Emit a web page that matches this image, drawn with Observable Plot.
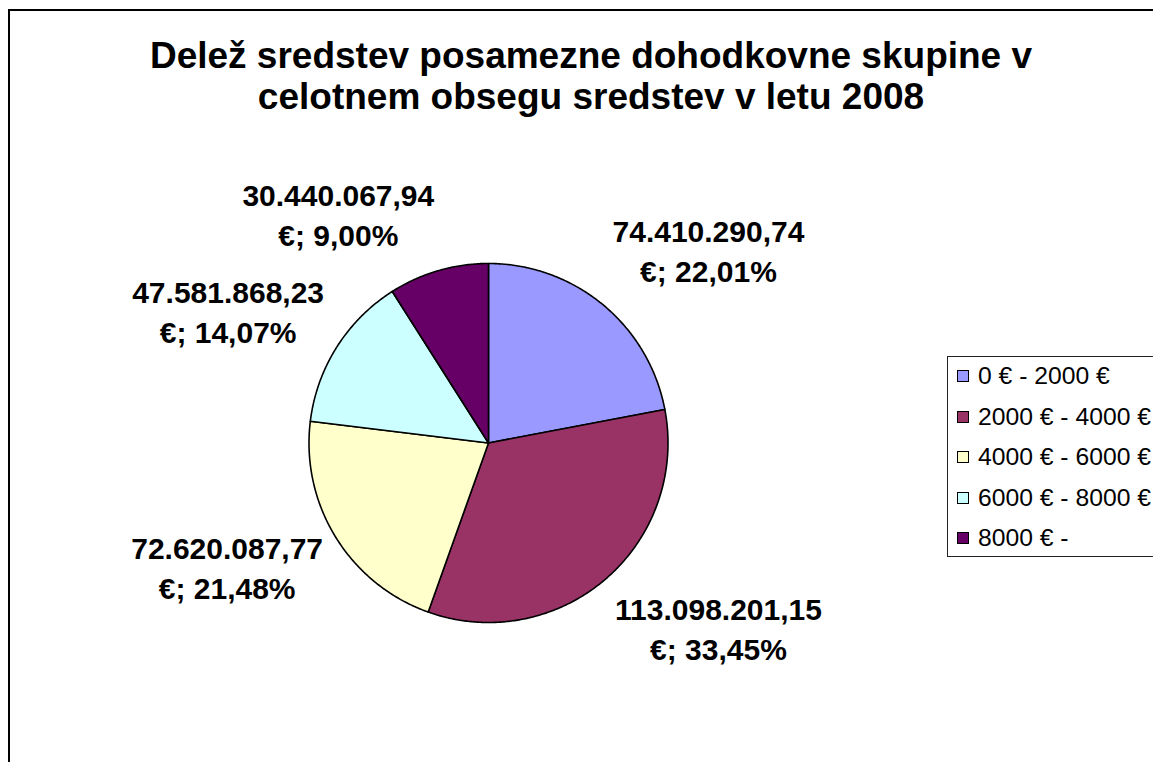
<!DOCTYPE html>
<html>
<head>
<meta charset="utf-8">
<script src="https://cdn.jsdelivr.net/npm/d3@7"></script>
<script src="https://cdn.jsdelivr.net/npm/@observablehq/plot@0.6"></script>
<style>
  html, body { margin: 0; padding: 0; background: #fff; overflow: hidden; width: 1153px; height: 762px; }
  #wrap { position: relative; width: 1153px; height: 762px; overflow: hidden; font-family: "Liberation Sans", Arial, sans-serif; }
  #frame { position: absolute; left: 8px; top: 9px; width: 1300px; height: 900px; border: 2px solid #000; box-sizing: border-box; }
  #title { position: absolute; left: 0; top: 35px; width: 1182px; text-align: center; font-weight: bold; font-size: 37px; line-height: 41px; color: #000; white-space: nowrap; }
  #chart { position: absolute; left: 0; top: 0; }
  #legend { position: absolute; left: 947px; top: 356px; width: 260px; height: 201px; border: 1px solid #222; box-sizing: border-box; background: #fff; }
  #legend .row { display: flex; align-items: center; height: 40.5px; font-size: 24.7px; color: #000; white-space: nowrap; }
  #legend .row:first-child { margin-top: -1px; }
  #legend .sw { width: 12px; height: 12px; border: 1px solid #000; box-sizing: border-box; margin-left: 9px; margin-right: 9px; flex: none; }
</style>
</head>
<body>
<div id="wrap">
  <div id="frame"></div>
  <div id="chart"></div>
  <div id="title"></div>
  <div id="legend"></div>
</div>
<script>
// ---- data ----
const titleLines = ["Delež sredstev posamezne dohodkovne skupine v", "celotnem obsegu sredstev v letu 2008"];
const categories = ["0 € - 2000 €", "2000 € - 4000 €", "4000 € - 6000 €", "6000 € - 8000 €", "8000 € -"];
const amounts = [74410290.74, 113098201.15, 72620087.77, 47581868.23, 30440067.94];
const colors = ["#9999FF", "#993366", "#FFFFCC", "#CCFFFF", "#660066"];

// ---- layout ----
const W = 1153, H = 762;
const cx = 488, cy = 442.5, R = 179.5;
const fontFamily = '"Liberation Sans", Arial, sans-serif';
const labelSize = 30, labelLine = 40, gap = 15, visualShift = 3.5;

document.getElementById("title").innerHTML = titleLines.join("<br>");

const locale = d3.formatLocale({decimal: ",", thousands: ".", grouping: [3], currency: ["", " €"]});
const fmtAmt = locale.format(",.2f");
const fmtPct = locale.format(".2%");

const total = d3.sum(amounts);
const arcs = d3.pie().sort(null).value(d => d)(amounts);

// slice outlines in unit coordinates (y up), angles clockwise from 12 o'clock
const slicePts = [];
arcs.forEach((a, i) => {
  const n = Math.max(2, Math.ceil((a.endAngle - a.startAngle) / (Math.PI / 360)));
  slicePts.push({k: categories[i], x: 0, y: 0});
  for (let j = 0; j <= n; j++) {
    const t = a.startAngle + (a.endAngle - a.startAngle) * j / n;
    slicePts.push({k: categories[i], x: Math.sin(t), y: Math.cos(t)});
  }
  slicePts.push({k: categories[i], x: 0, y: 0});
});

// labels placed outside the slice, box corner anchored toward the slice's mid-angle
const canvas = document.createElement("canvas");
const ctx = canvas.getContext("2d");
ctx.font = `bold ${labelSize}px ${fontFamily}`;
const labels = arcs.map((a, i) => {
  const l1 = fmtAmt(amounts[i]);
  const l2 = "€; " + fmtPct(amounts[i] / total);
  const w = Math.max(ctx.measureText(l1).width, ctx.measureText(l2).width);
  const h = 2 * labelLine;
  const m = (a.startAngle + a.endAngle) / 2;
  const dx = Math.sin(m), dy = Math.cos(m);
  const offX = Math.sign(dx) * w / 2;
  const offY = Math.sign(dy) * (h / 2) * Math.min(1, Math.abs(dy) / Math.abs(dx));
  return {
    text: l1 + "\n" + l2,
    x: dx * (1 + gap / R) + offX / R,
    y: dy * (1 + gap / R) + (offY + visualShift) / R
  };
});

const chart = Plot.plot({
  width: W,
  height: H,
  margin: 0,
  x: {domain: [-1, 1], range: [cx - R, cx + R], axis: null},
  y: {domain: [-1, 1], range: [cy + R, cy - R], axis: null},
  color: {domain: categories, range: colors},
  style: {background: "transparent", fontFamily: fontFamily, overflow: "visible"},
  marks: [
    Plot.line(slicePts, {x: "x", y: "y", z: "k", fill: "k", stroke: "#000", strokeWidth: 1.6, strokeLinejoin: "round"}),
    Plot.text(labels, {
      x: "x", y: "y", text: "text",
      fontSize: labelSize, fontWeight: "bold", lineHeight: labelLine / labelSize,
      textAnchor: "middle", lineAnchor: "middle", fill: "#000"
    })
  ]
});
document.getElementById("chart").appendChild(chart);

// legend
const scale = chart.scale("color");
const leg = document.getElementById("legend");
categories.forEach((c, i) => {
  const row = document.createElement("div");
  row.className = "row";
  const sw = document.createElement("span");
  sw.className = "sw";
  sw.style.background = scale.range[i];
  const tx = document.createElement("span");
  tx.textContent = c;
  row.appendChild(sw);
  row.appendChild(tx);
  leg.appendChild(row);
});
</script>
</body>
</html>
